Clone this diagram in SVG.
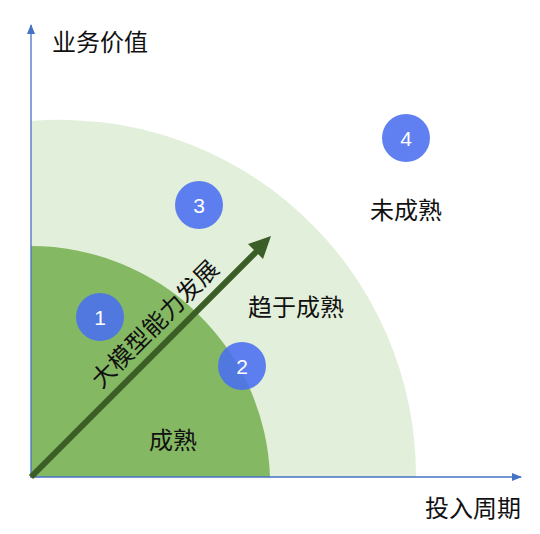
<svg xmlns="http://www.w3.org/2000/svg" width="540" height="534" viewBox="0 0 540 534">
<style>
.t{font-family:"Liberation Sans","Noto Sans CJK SC",sans-serif;font-size:24px;fill:#111}
.n{font-family:"Liberation Sans","Noto Sans",sans-serif;font-size:21px;fill:#fff;text-anchor:middle}
.c{fill:#4A6EF0;fill-opacity:0.88}
.ax{stroke:#4472C4;stroke-width:1.3;fill:none}
</style>
<defs>
<marker id="ah" markerWidth="10" markerHeight="10" refX="9" refY="5" orient="auto" markerUnits="userSpaceOnUse">
<path d="M0,1 L10,5 L0,9 Z" fill="#4472C4"/>
</marker>
</defs>
<g id="zones">
<path d="M31,477 L31,121 A356,356 0 0 1 416,477 Z" fill="#E2EFDA"/>
<path d="M31,477 L31,246 A239,239 0 0 1 270,477 Z" fill="#85B863"/>
</g>
<g id="connectors">
<line class="ax" x1="31" y1="478" x2="31" y2="25" marker-end="url(#ah)"/>
<line class="ax" x1="31" y1="477" x2="521" y2="477" marker-end="url(#ah)"/>
<line x1="31" y1="477" x2="258" y2="250" stroke="#3B5E27" stroke-width="6"/>
<polygon points="271,236 263,259 248,244" fill="#3B5E27"/>
</g>
<g id="label-y"><text class="t" x="52" y="51">业务价值</text></g>
<g id="label-x"><text class="t" x="425" y="517">投入周期</text></g>
<g id="label-mature"><text class="t" x="149" y="449">成熟</text></g>
<g id="label-near"><text class="t" x="248" y="316">趋于成熟</text></g>
<g id="label-immature"><text class="t" x="370" y="219">未成熟</text></g>
<g id="label-arrow"><text class="t" text-anchor="middle" transform="translate(161,330) rotate(-45)">大模型能力发展</text></g>
<g id="node-1"><circle class="c" cx="100" cy="317" r="24"/><text class="n" x="100" y="325">1</text></g>
<g id="node-2"><circle class="c" cx="242" cy="366" r="24"/><text class="n" x="242" y="374">2</text></g>
<g id="node-3"><circle class="c" cx="199" cy="205" r="24"/><text class="n" x="199" y="213">3</text></g>
<g id="node-4"><circle class="c" cx="406" cy="138" r="24"/><text class="n" x="406" y="146">4</text></g>
</svg>
